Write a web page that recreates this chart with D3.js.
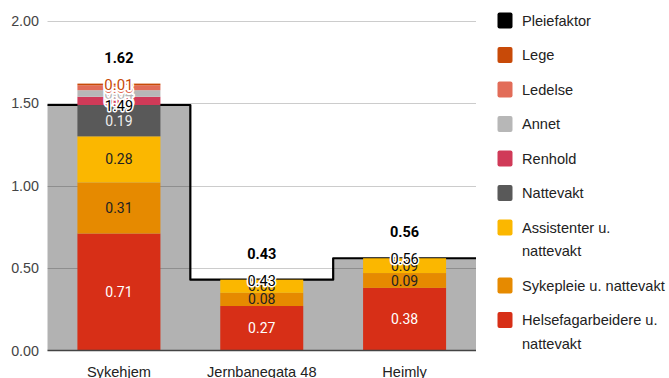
<!DOCTYPE html>
<html>
<head>
<meta charset="utf-8">
<script src="https://cdn.jsdelivr.net/npm/d3@7"></script>
<style>
  html, body { margin: 0; padding: 0; background: #fff; }
  svg { display: block; }
</style>
</head>
<body>
<svg id="chart" width="669" height="378"></svg>
<script>
// Bemanning per avdeling (årsverk per beboer)
const categories = ["Sykehjem", "Jernbanegata 48", "Heimly"];
const helsefagarbeidere = [0.71, 0.27, 0.38];
const sykepleie = [0.31, 0.08, 0.09];
const assistenter = [0.28, 0.08, 0.09];
const nattevakt = [0.19, 0, 0];
const renhold = [0.05, 0, 0];
const annet = [0.04, 0, 0];
const ledelse = [0.03, 0, 0];
const lege = [0.01, 0, 0];
const pleiefaktor = [1.49, 0.43, 0.56];
const yTicks = [0, 0.5, 1, 1.5, 2];

// Stack order, bottom to top
const series = [
  { name: "Helsefagarbeidere u. nattevakt", values: helsefagarbeidere, color: "#d72f17", text: "#ffffff" },
  { name: "Sykepleie u. nattevakt", values: sykepleie, color: "#e68a00", text: "#222222" },
  { name: "Assistenter u. nattevakt", values: assistenter, color: "#fbb700", text: "#222222" },
  { name: "Nattevakt", values: nattevakt, color: "#595959", text: "#eeeeee" },
  { name: "Renhold", values: renhold, color: "#d03a58", text: "#ffffff" },
  { name: "Annet", values: annet, color: "#b7b7b7", text: "#222222" },
  { name: "Ledelse", values: ledelse, color: "#e26c58", text: "#222222" },
  { name: "Lege", values: lege, color: "#c84a08", text: "#ffffff" }
];

const svg = d3.select("#chart");
const x = d3.scaleBand().domain(categories).range([47.5, 476]).padding(0);
const y = d3.scaleLinear().domain([0, 2]).range([350.5, 21]);
const barW = 83;
const fmt = d3.format(".2f");
const axisFont = "'Liberation Sans', Arial, sans-serif";
const labelFont = "Roboto, 'Liberation Sans', Arial, sans-serif";

// Gridlines
svg.append("g").selectAll("line").data(yTicks.filter(t => t > 0)).join("line")
  .attr("x1", x.range()[0]).attr("x2", x.range()[1])
  .attr("y1", d => Math.round(y(d)) + 0.5).attr("y2", d => Math.round(y(d)) + 0.5)
  .attr("stroke", "#cccccc").attr("stroke-width", 1);

// Y axis labels
svg.append("g").selectAll("text").data(yTicks).join("text")
  .attr("x", 39).attr("y", d => y(d))
  .attr("dy", "0.35em").attr("text-anchor", "end")
  .attr("font-family", axisFont).attr("font-size", 14.3).attr("fill", "#444")
  .text(d => fmt(d));

// Pleiefaktor as stepped area
const stepPts = pleiefaktor.map((v, i) => [x(categories[i]), v]);
stepPts.push([x.range()[1], pleiefaktor[pleiefaktor.length - 1]]);
const area = d3.area().curve(d3.curveStepAfter)
  .x(d => d[0]).y0(y(0)).y1(d => y(d[1]));
const stepLine = d3.line().curve(d3.curveStepAfter)
  .x(d => d[0]).y(d => y(d[1]));
svg.append("path").attr("d", area(stepPts))
  .attr("fill", "#000").attr("fill-opacity", 0.3);
svg.append("path").attr("d", stepLine(stepPts))
  .attr("fill", "none").attr("stroke", "#000").attr("stroke-width", 2.2)
  .attr("stroke-linejoin", "round");

// Stacked bars
const segments = [];
categories.forEach((c, i) => {
  let base = 0;
  series.forEach(s => {
    const v = s.values[i];
    if (v > 0) segments.push({ cat: c, s, v, y0: base, y1: base + v });
    base += v;
  });
});
const cx = c => x(c) + x.bandwidth() / 2;

svg.append("g").selectAll("rect").data(segments).join("rect")
  .attr("x", d => cx(d.cat) - barW / 2).attr("width", barW)
  .attr("y", d => y(d.y1)).attr("height", d => y(d.y0) - y(d.y1))
  .attr("fill", d => d.s.color);

// Baseline
svg.append("line")
  .attr("x1", x.range()[0]).attr("x2", x.range()[1])
  .attr("y1", y(0)).attr("y2", y(0))
  .attr("stroke", "#444").attr("stroke-width", 1.4);

// Category labels
svg.append("g").selectAll("text").data(categories).join("text")
  .attr("x", d => cx(d)).attr("y", 371.5)
  .attr("dy", "0.35em").attr("text-anchor", "middle")
  .attr("font-family", axisFont).attr("font-size", 14.6).attr("fill", "#222")
  .text(d => d);

// Segment value labels
const segLabels = svg.append("g").attr("font-family", labelFont).attr("font-size", 14)
  .attr("text-anchor", "middle");
segments.forEach(d => {
  const h = y(d.y0) - y(d.y1);
  const fits = h >= 12;
  const t = segLabels.append("text")
    .attr("x", cx(d.cat)).attr("y", (y(d.y0) + y(d.y1)) / 2)
    .attr("dy", "0.36em")
    .text(fmt(d.v));
  if (fits) {
    t.attr("fill", d.s.text);
  } else {
    t.attr("fill", d.s.color).attr("stroke", "#fff").attr("stroke-width", 3.5)
      .attr("stroke-linejoin", "round").attr("paint-order", "stroke")
      .attr("font-size", 15);
  }
});

// Pleiefaktor value labels
svg.append("g").selectAll("text").data(pleiefaktor).join("text")
  .attr("x", (d, i) => cx(categories[i])).attr("y", d => y(d) + 1)
  .attr("dy", "0.36em").attr("text-anchor", "middle")
  .attr("font-family", labelFont).attr("font-size", 14.5)
  .attr("fill", "#000").attr("stroke", "#fff").attr("stroke-width", 3)
  .attr("stroke-linejoin", "round").attr("paint-order", "stroke")
  .text(d => fmt(d));

// Totals above each bar
const totals = categories.map((c, i) => d3.sum(series, s => s.values[i]));
svg.append("g").selectAll("text").data(totals).join("text")
  .attr("x", (d, i) => cx(categories[i])).attr("y", d => y(d) - 26)
  .attr("dy", "0.36em").attr("text-anchor", "middle")
  .attr("font-family", labelFont).attr("font-size", 14.5).attr("font-weight", "bold")
  .attr("fill", "#000").attr("stroke", "#fff").attr("stroke-width", 3)
  .attr("stroke-linejoin", "round").attr("paint-order", "stroke")
  .text(d => fmt(d));

// Legend
const legendItems = [{ name: "Pleiefaktor", color: "#000000" }]
  .concat(series.slice().reverse().map(s => ({ name: s.name, color: s.color })));
const legendWrap = {
  "Assistenter u. nattevakt": ["Assistenter u.", "nattevakt"],
  "Helsefagarbeidere u. nattevakt": ["Helsefagarbeidere u.", "nattevakt"]
};
const lineH = 23.5, entryGap = 34.5;
let ly = 20.5;
const legend = svg.append("g");
legendItems.forEach(item => {
  const lines = legendWrap[item.name] || [item.name];
  legend.append("rect")
    .attr("x", 497.5).attr("y", ly - 8).attr("width", 15).attr("height", 16)
    .attr("rx", 2).attr("fill", item.color);
  const t = legend.append("text")
    .attr("x", 522).attr("y", ly)
    .attr("font-family", axisFont).attr("font-size", 14.6).attr("fill", "#222");
  lines.forEach((ln, k) => {
    t.append("tspan").attr("x", 522).attr("dy", k === 0 ? "0.35em" : lineH).text(ln);
  });
  ly += entryGap + lineH * (lines.length - 1);
});
</script>
</body>
</html>
